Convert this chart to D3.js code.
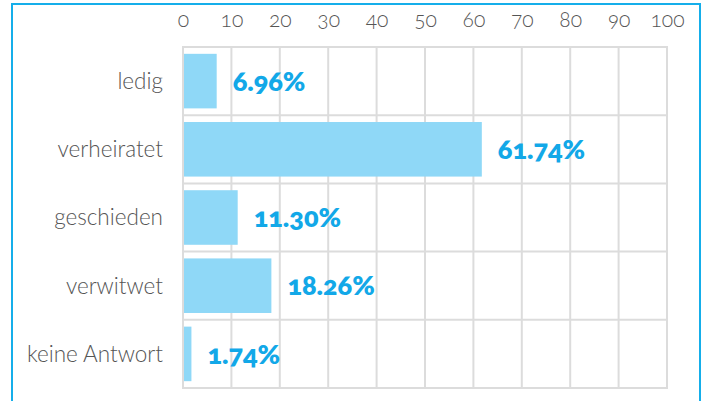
<!DOCTYPE html>
<html><head><meta charset="utf-8">
<script src="https://cdn.jsdelivr.net/npm/d3@7"></script>
<style>
html,body{margin:0;padding:0;background:#fff;}
svg{display:block;font-family:Lato,"Open Sans",sans-serif;}
.onum{font-feature-settings:"onum" 1;font-variant-numeric:oldstyle-nums;}
</style></head><body>
<svg id="chart" width="702" height="401"></svg>
<script>
const categories = ["ledig","verheiratet","geschieden","verwitwet","keine Antwort"];
const values = [6.96, 61.74, 11.30, 18.26, 1.74];
const tickValues = [0,10,20,30,40,50,60,70,80,90,100];

const svg = d3.select("#chart");

// frame
svg.append("rect").attr("x",12).attr("y",4).attr("width",688).attr("height",420)
  .attr("fill","none").attr("stroke","#15aeea").attr("stroke-width",2);

const x = d3.scaleLinear().domain([0,100]).range([183,667]);
const y = d3.scaleBand().domain(categories).range([47,388]).padding(0);

const grid = svg.append("g");
grid.selectAll("line.v").data(tickValues).join("line")
  .attr("x1",d=>x(d)).attr("x2",d=>x(d)).attr("y1",y.range()[0]).attr("y2",y.range()[1])
  .attr("stroke","#dcdcdc").attr("stroke-width",2);
const hb = categories.map(c=>y(c)).concat([y.range()[1]]);
grid.selectAll("line.h").data(hb).join("line")
  .attr("x1",x(0)-1).attr("x2",x(100)+1).attr("y1",d=>d).attr("y2",d=>d)
  .attr("stroke","#dcdcdc").attr("stroke-width",2);

// top axis
const axis = d3.axisTop(x).tickValues(tickValues).tickSize(0).tickPadding(0).tickFormat(d3.format("d"));
const ag = svg.append("g").attr("transform","translate(0,27)").call(axis);
ag.select(".domain").remove();
ag.selectAll("text").attr("class","onum").attr("font-size",21).attr("fill","#555")
  .attr("font-family","Lato, sans-serif").attr("font-weight",300);

// bars
const bh = y.bandwidth()*0.8;
svg.selectAll("rect.bar").data(values).join("rect").attr("class","bar")
  .attr("x",x(0)+1).attr("y",(d,i)=>y(categories[i])+y.bandwidth()*0.1)
  .attr("width",d=>x(d)-x(0)-1).attr("height",bh).attr("fill","#8fd8f7");

// value labels
svg.selectAll("text.val").data(values).join("text").attr("class","val onum")
  .attr("x",d=>x(d)+16).attr("y",(d,i)=>y(categories[i])+y.bandwidth()/2)
  .attr("dy","0.36em").attr("font-size",27).attr("font-weight",800).attr("fill","#12a8e8")
  .text(d=>d3.format(".2f")(d)+"%");

// category labels
svg.selectAll("text.cat").data(categories).join("text").attr("class","cat")
  .attr("x",163).attr("y",d=>y(d)+y.bandwidth()/2).attr("dy","0.35em")
  .attr("text-anchor","end").attr("font-size",22.5).attr("font-weight",300).attr("fill","#555")
  .text(d=>d);
</script></body></html>
